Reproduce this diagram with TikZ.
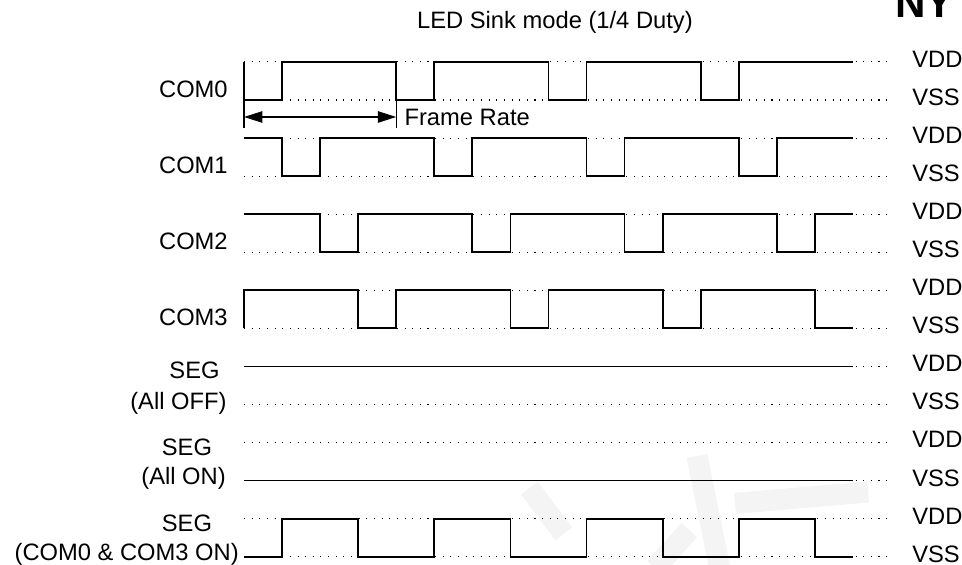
\documentclass[tikz,border=0pt]{standalone}
\usepackage{fontspec}
\setmainfont{Liberation Sans}
\usetikzlibrary{arrows.meta,positioning}

\begin{document}
\begin{tikzpicture}[x=0.7612cm,y=0.7612cm,
  lbl/.style={font=\fontsize{13.5}{16}\selectfont,inner sep=0pt,text height=9.7pt,text depth=0pt},
  wave/.style={line width=1pt,line join=miter},
  dots/.style={line width=0.6pt,dash pattern=on 0.6pt off 3.75pt},
  marker/.style={line width=0.8pt}]
\useasboundingbox (-6.411,-12.217) rectangle (18.865,2.627);
% faint watermark strokes behind the last row
\begin{scope}[gray!9,line width=12pt]
\draw (16.4,-10.3) -- (12.9,-10.6);
\draw (11.9,-9.35) -- (12.5,-12.3);
\draw (10.8,-12.3) -- (11.7,-11.3);
\draw (7.5,-10.2) -- (8.4,-11.4);
\end{scope}
% title and the cut-off header letters
\node[lbl] (title) at (8.17,2.10) {LED Sink mode (1/4 Duty)};
\node[font=\fontsize{24}{28}\selectfont\bfseries,inner sep=0pt,anchor=base west] (hdr) at (17.1,2.18) {NY};
% dotted VDD / VSS guide lines for the seven rows
\foreach \k in {0,...,6} {
  \pgfmathsetmacro{\lo}{-2*\k}
  \pgfmathsetmacro{\hi}{-2*\k+1}
  \draw[dots] (0,\hi) -- (17.05,\hi);
  \draw[dots] (0,\lo) -- (17.05,\lo);
  \node[lbl,anchor=west] (vdd\k) at (17.55,\hi+0.08) {VDD};
  \node[lbl,anchor=west] (vss\k) at (17.55,\lo+0.08) {VSS};
}
% COM0 .. COM2: one low slot per frame, 4 frames
\foreach \k in {0,...,2} {
  \pgfmathsetmacro{\lo}{-2*\k}
  \pgfmathsetmacro{\hi}{-2*\k+1}
  \draw[wave] (0,\hi) \foreach \f in {0,...,3} {
    -- (4*\f+\k,\hi) -- (4*\f+\k,\lo) -- (4*\f+\k+1,\lo) -- (4*\f+\k+1,\hi)} -- (16,\hi);
  \node[lbl,anchor=east] (com\k) at (-0.42,\lo+0.3) {COM\k};
}
% COM3 starts with a rising edge and ends low
\draw[wave] (0,-6) -- (0,-5) -- (3,-5) -- (3,-6) -- (4,-6) -- (4,-5) -- (7,-5) -- (7,-6)
  -- (8,-6) -- (8,-5) -- (11,-5) -- (11,-6) -- (12,-6) -- (12,-5) -- (15,-5) -- (15,-6) -- (16,-6);
\node[lbl,anchor=east] (com3) at (-0.42,-5.7) {COM3};
% SEG rows
\draw[wave] (0,-7) -- (16,-7);
\node[lbl] (segoff) at (-1.3,-7.105) {SEG};
\node[lbl,anchor=east] (segoffb) at (-0.45,-7.9) {(All OFF)};
\draw[wave] (0,-10) -- (16,-10);
\node[lbl] (segon) at (-1.5,-9.105) {SEG};
\node[lbl,anchor=east] (segonb) at (-0.47,-9.87) {(All ON)};
\draw[wave] (0,-12) -- (1,-12) -- (1,-11) -- (3,-11) -- (3,-12) -- (5,-12) -- (5,-11) -- (7,-11)
  -- (7,-12) -- (9,-12) -- (9,-11) -- (11,-11) -- (11,-12) -- (13,-12) -- (13,-11) -- (15,-11)
  -- (15,-12) -- (16,-12);
\node[lbl] (segcc) at (-1.5,-11.105) {SEG};
\node[lbl,anchor=east] (segccb) at (-0.13,-11.87) {(COM0 \& COM3 ON)};
% frame rate marker
\coordinate (frl) at (0,-0.447);
\coordinate (frr) at (4,-0.447);
\draw[marker] (0,1) -- (0,-0.74);
\draw[marker] (4,0) -- (4,-0.74);
\draw[marker,{Triangle[length=10.5pt,width=6.5pt]}-{Triangle[length=10.5pt,width=6.5pt]}] (frl) -- (frr);
\node[lbl,right=1.6mm of frr] (frame) {Frame Rate};
\end{tikzpicture}
\end{document}
